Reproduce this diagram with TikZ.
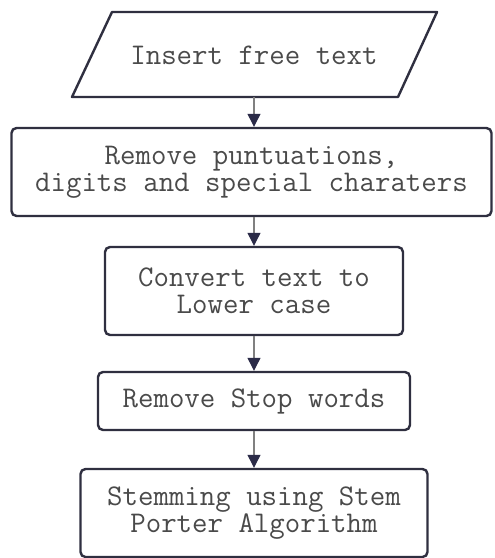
\documentclass[tikz,border=0pt]{standalone}
\usepackage{tikz}
\usetikzlibrary{arrows.meta,positioning}
\definecolor{boxLine}{HTML}{2F2F40}
\definecolor{boxText}{HTML}{4A4A4A}
\definecolor{flowLine}{HTML}{808080}
\definecolor{flowHead}{HTML}{2B2B48}
\tikzset{
  steptext/.style={text=boxText, font=\ttfamily\fontsize{15}{13.5}\selectfont},
  stepbox/.style={steptext, draw=boxLine, line width=1.2pt, rounded corners=2.5pt,
    fill=white, align=center, minimum height=44pt},
  flow/.style={draw=flowLine, line width=0.6pt,
    -{Triangle[length=6.5pt,width=6.5pt,color=flowHead]}}
}

\begin{document}
\begin{tikzpicture}[x=0.5pt, y=-0.5pt]
    \useasboundingbox (0,0) rectangle (494,558);

    \draw[draw=boxLine, line width=1.2pt, line join=round] (112,12) -- (437,12) -- (398,97) -- (72,97) -- cycle;
    \node[steptext] (insert) at (254,55) {Insert free text};
    \coordinate (insertbot) at (254,97);

    \node[stepbox, minimum width=240pt] (clean) at (251.5,172) {Remove puntuations,\\digits and special charaters};
    \node[stepbox, minimum width=149pt] (lower) at (254,291) {Convert text to\\Lower case};
    \node[stepbox, minimum width=156pt, minimum height=29pt] (stop) at (254,401) {Remove Stop words};
    \node[stepbox, minimum width=173.5pt] (stem) at (254,513) {Stemming using Stem\\Porter Algorithm};

    \draw[flow] (insertbot) -- (insertbot |- clean.north);
    \draw[flow] (clean.south -| lower) -- (lower);
    \draw[flow] (lower) -- (stop);
    \draw[flow] (stop) -- (stem);
\end{tikzpicture}
\end{document}
